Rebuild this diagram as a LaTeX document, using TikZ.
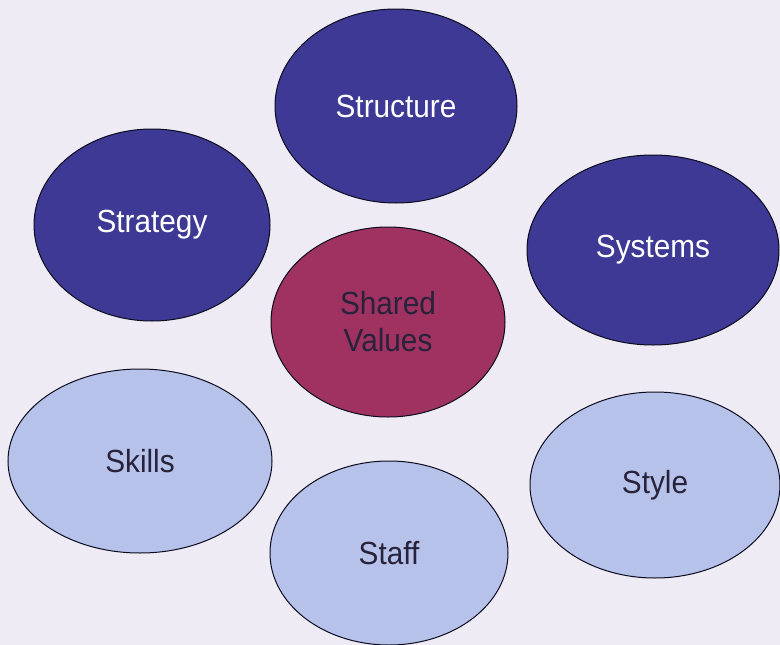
\documentclass[tikz,border=0pt]{standalone}
\usepackage{fontspec}
\setmainfont{Liberation Sans}[FakeStretch=0.93]
\usetikzlibrary{shapes.geometric}
\definecolor{bg}{RGB}{238,235,245}
\definecolor{darkb}{RGB}{62,57,148}
\definecolor{maroon}{RGB}{160,50,98}
\definecolor{lightb}{RGB}{182,194,234}
\definecolor{txtd}{RGB}{40,34,58}
\tikzset{
  bub/.style={ellipse, draw=black!80!darkb, line width=1pt, inner sep=0pt, align=center,
    font=\fontsize{32}{37}\selectfont},
  dk/.style={bub, fill=darkb, text=white},
  mr/.style={bub, fill=maroon, text=txtd},
  lt/.style={bub, fill=lightb, text=txtd},
}
\begin{document}
\begin{tikzpicture}[x=1pt,y=-1pt]
\fill[bg] (0,0) rectangle (780,645);
\useasboundingbox (0,0) rectangle (780,645);
\node[dk, minimum width=242pt, minimum height=194pt] (structure) at (396,106) {Structure};
\node[dk, minimum width=236pt, minimum height=192pt] (strategy) at (152,225) {Strategy};
\node[dk, minimum width=252pt, minimum height=190pt] (systems) at (653,250) {Systems};
\node[mr, minimum width=234pt, minimum height=190pt] (shared) at (388,322) {Shared\\Values};
\node[lt, minimum width=264pt, minimum height=184pt] (skills) at (140,461) {Skills};
\node[lt, minimum width=238pt, minimum height=184pt] (staff) at (389,553) {Staff};
\node[lt, minimum width=250pt, minimum height=186pt] (style) at (655,485) {Style};
\end{tikzpicture}
\end{document}
